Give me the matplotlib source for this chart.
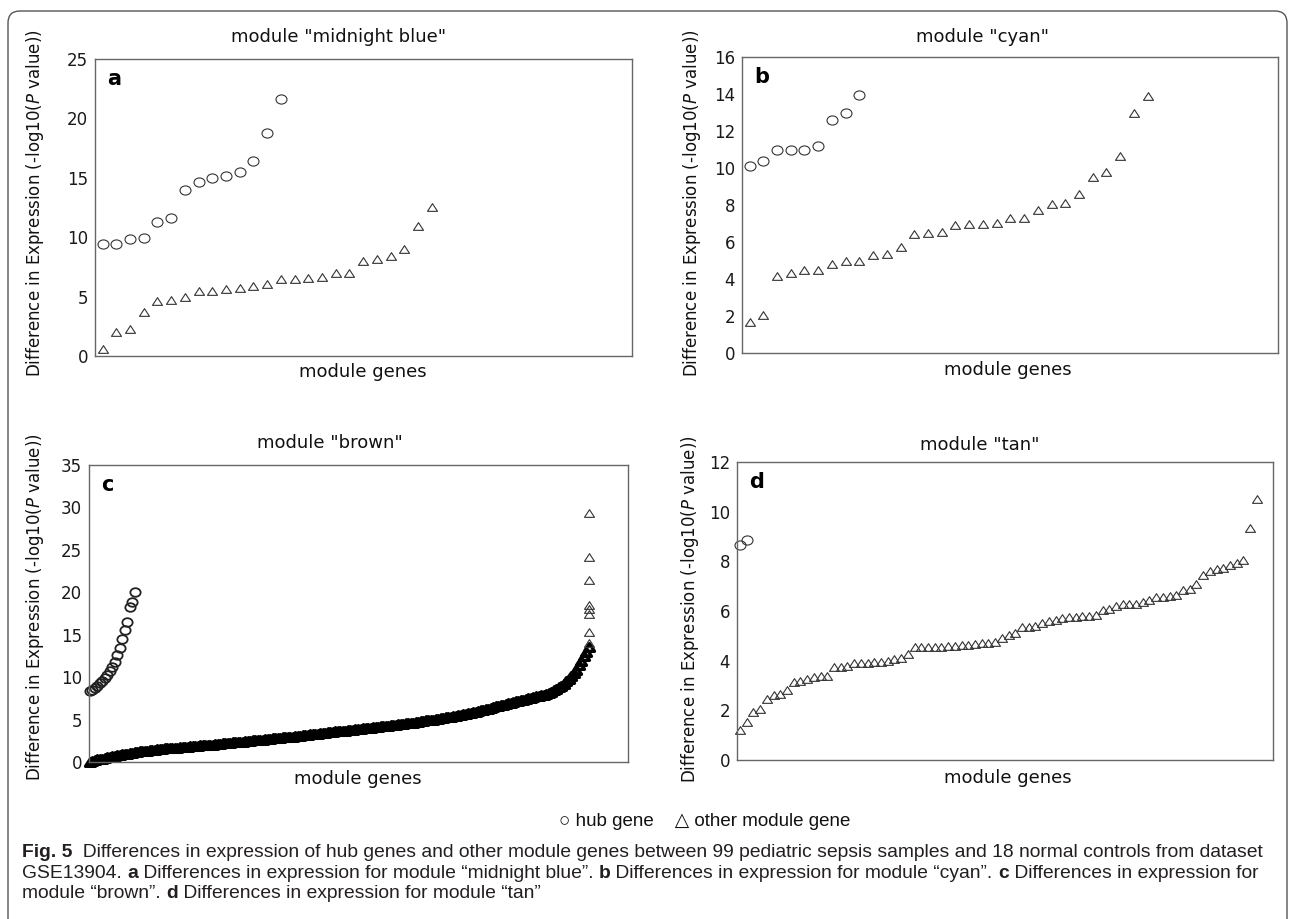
import numpy as np
import matplotlib
matplotlib.use('Agg')
import matplotlib.pyplot as plt
from matplotlib.path import Path
from matplotlib.transforms import Affine2D
from matplotlib.patches import FancyBboxPatch

W, H = 1290, 919

# module "midnight blue"
a_hub = [9.4, 9.4, 9.85, 9.95, 11.3, 11.6, 13.95, 14.65, 15.0, 15.15, 15.5, 16.45, 18.8, 21.6]
a_other = [0.6, 2.0, 2.3, 3.7, 4.65, 4.75, 4.95, 5.45, 5.45, 5.65, 5.7, 5.9, 6.1, 6.5, 6.5,
           6.55, 6.65, 6.95, 7.0, 8.0, 8.2, 8.4, 9.0, 10.95, 12.5]

# module "cyan"
b_hub = [10.1, 10.4, 10.95, 11.0, 11.0, 11.2, 12.6, 12.95, 13.95]
b_other = [1.65, 2.05, 4.15, 4.3, 4.5, 4.5, 4.8, 5.0, 5.0, 5.3, 5.35, 5.75, 6.45, 6.5, 6.55,
           6.9, 6.95, 6.95, 7.05, 7.3, 7.3, 7.75, 8.05, 8.1, 8.6, 9.5, 9.8, 10.65, 12.95, 13.9]

# module "brown" (dense)
c_hub = [8.4, 8.5, 8.7, 9.0, 9.3, 9.6, 9.9, 10.3, 10.7, 11.2, 11.8, 12.6, 13.4, 14.5,
         15.5, 16.5, 18.3, 18.9, 20.0]
c_other = [0.0, 0.1, 0.2, 0.3, 0.35, 0.4, 0.5, 0.55, 0.6, 0.7,
           0.75, 0.8, 0.85, 0.9, 0.95, 1.0, 1.05, 1.1, 1.15, 1.2,
           1.25, 1.3, 1.3, 1.35, 1.4, 1.4, 1.45, 1.5, 1.5, 1.55,
           1.6, 1.6, 1.65, 1.65, 1.7, 1.7, 1.75, 1.75, 1.8, 1.8,
           1.85, 1.85, 1.9, 1.9, 1.95, 1.95, 2.0, 2.0, 2.05, 2.05,
           2.1, 2.1, 2.15, 2.2, 2.2, 2.25, 2.25, 2.3, 2.3, 2.35,
           2.4, 2.4, 2.45, 2.5, 2.5, 2.55, 2.55, 2.6, 2.65, 2.65,
           2.7, 2.7, 2.75, 2.8, 2.8, 2.85, 2.85, 2.9, 2.95, 2.95,
           3.0, 3.0, 3.05, 3.1, 3.1, 3.15, 3.2, 3.2, 3.25, 3.3,
           3.3, 3.35, 3.4, 3.4, 3.45, 3.5, 3.5, 3.55, 3.6, 3.6,
           3.65, 3.7, 3.7, 3.75, 3.8, 3.8, 3.85, 3.9, 3.9, 3.95,
           4.0, 4.0, 4.05, 4.1, 4.15, 4.15, 4.2, 4.25, 4.3, 4.3,
           4.35, 4.4, 4.4, 4.45, 4.5, 4.5, 4.55, 4.6, 4.65, 4.65,
           4.7, 4.75, 4.8, 4.85, 4.9, 4.9, 4.95, 5.0, 5.05, 5.1,
           5.15, 5.2, 5.25, 5.3, 5.35, 5.4, 5.45, 5.5, 5.55, 5.6,
           5.65, 5.75, 5.8, 5.9, 5.95, 6.0, 6.1, 6.15, 6.25, 6.3,
           6.4, 6.45, 6.55, 6.6, 6.7, 6.75, 6.85, 6.9, 7.0, 7.05,
           7.15, 7.2, 7.3, 7.35, 7.45, 7.5, 7.6, 7.65, 7.75, 7.8,
           7.9, 7.95, 8.05, 8.15, 8.3, 8.45, 8.6, 8.8, 9.0, 9.2,
           9.5, 9.8, 10.1, 10.5, 10.9, 11.4, 11.9, 12.5, 13.0, 13.5]
c_tail = [14.0, 15.3, 17.5, 18.0, 18.5, 21.5, 24.1, 29.3]  # top genes, stacked at the end

# module "tan"
d_hub = [8.65, 8.85]
d_other = [1.2, 1.55, 1.95, 2.05, 2.45, 2.6, 2.65, 2.8, 3.15, 3.2,
           3.25, 3.35, 3.4, 3.4, 3.75, 3.75, 3.8, 3.9, 3.9, 3.9,
           3.95, 3.95, 4.0, 4.05, 4.1, 4.25, 4.55, 4.55, 4.55, 4.55,
           4.57, 4.6, 4.6, 4.62, 4.65, 4.68, 4.7, 4.72, 4.75, 4.9,
           5.05, 5.1, 5.35, 5.35, 5.4, 5.5, 5.6, 5.65, 5.72, 5.75,
           5.75, 5.78, 5.8, 5.82, 6.05, 6.1, 6.2, 6.3, 6.3, 6.3,
           6.35, 6.45, 6.55, 6.55, 6.6, 6.65, 6.85, 6.9, 7.1, 7.45,
           7.6, 7.7, 7.75, 7.85, 7.95, 8.05, 9.35, 10.5]

titles = ['module "midnight blue"', 'module "cyan"', 'module "brown"', 'module "tan"']
letters = ['a', 'b', 'c', 'd']
ylims = [25, 16, 35, 12]
ysteps = [5, 2, 5, 2]

plt.rcParams['font.family'] = ['DejaVu Sans']
plt.rcParams['mathtext.fontset'] = 'dejavusans'

# slightly wide markers (the original figure is stretched horizontally)
circ = Path.unit_circle().transformed(Affine2D().scale(1.2, 1.0))
tri = Path([(-1.3, -1.0), (1.3, -1.0), (0.0, 1.0), (-1.3, -1.0)],
           [Path.MOVETO, Path.LINETO, Path.LINETO, Path.CLOSEPOLY])

fig = plt.figure(figsize=(W / 100, H / 100), dpi=100)


def px_rect(l, t, r, b):
    return [l / W, 1 - b / H, (r - l) / W, (b - t) / H]


boxes = [(95, 59, 632, 356), (742, 57, 1278, 353), (89, 465, 628, 762), (737, 462, 1273, 760)]
xlims = [(-0.55, 38.6), (-0.55, 38.5), (-0.3, 214.7), (-0.45, 79.4)]
title_pos = [(339, 37), (982, 37), (330, 443), (980, 445)]
xlab_pos = [(363, 372), (1008, 370), (358, 779), (1008, 778)]
ylab_pos = [(35, 203), (692, 203), (35, 607), (690, 609)]

hubs = [a_hub, b_hub, c_hub, d_hub]
others = [a_other, b_other, c_other, d_other]

ec = '#333333'
for i in range(4):
    ax = fig.add_axes(px_rect(*boxes[i]))
    dense = i == 2
    ax.plot(np.arange(len(hubs[i])), hubs[i], linestyle='none', marker=circ,
            ms=7.4 if dense else 7.9, mfc='none', mec='#222222' if dense else ec,
            mew=1.3 if dense else 0.8, clip_on=False)
    ax.plot(np.arange(len(others[i])), others[i], linestyle='none', marker=tri, ms=7.2,
            mfc='none', mec='black' if dense else ec, mew=2.4 if dense else 0.8, clip_on=False)
    if dense:
        ax.plot(np.full(len(c_tail), len(c_other) - 1), c_tail, linestyle='none', marker=tri,
                ms=7.2, mfc='none', mec=ec, mew=0.8, clip_on=False)
    ax.set_xlim(*xlims[i])
    ax.set_ylim(0, ylims[i])
    ax.set_yticks(np.arange(0, ylims[i] + 1, ysteps[i]))
    ax.set_xticks([])
    ax.tick_params(length=0, labelsize=12, pad=5, colors='#1a1a1a')
    for s in ax.spines.values():
        s.set_color('#666666')
        s.set_linewidth(1.0)
    ax.text(0.022, 0.965, letters[i], transform=ax.transAxes, ha='left', va='top',
            fontsize=15, fontweight='bold', color='black')
    fig.text(title_pos[i][0] / W, 1 - title_pos[i][1] / H, titles[i], ha='center',
             va='center', fontsize=13, color='#111111')
    fig.text(xlab_pos[i][0] / W, 1 - xlab_pos[i][1] / H, 'module genes', ha='center',
             va='center', fontsize=13, color='#111111')
    fig.text(ylab_pos[i][0] / W, 1 - ylab_pos[i][1] / H,
             'Difference in Expression (-log10($\\it{P}$ value))', rotation=90,
             ha='center', va='center', fontsize=12, color='#111111')

# legend row
cap_font = ['Liberation Sans Narrow', 'Liberation Sans', 'DejaVu Sans']
fig.text(705 / W, 1 - 821 / H, '\u25cb hub gene    \u25b3 other module gene', ha='center',
         va='center', fontsize=13.5, family=cap_font, color='#111111')

# caption with bold run pieces
cap_lines = [
    [('Fig. 5', True), ('  Differences in expression of hub genes and other module genes between '
                        '99 pediatric sepsis samples and 18 normal controls from dataset', False)],
    [('GSE13904. ', False), ('a', True), (' Differences in expression for module \u201cmidnight blue\u201d. ', False),
     ('b', True), (' Differences in expression for module \u201ccyan\u201d. ', False), ('c', True),
     (' Differences in expression for', False)],
    [('module \u201cbrown\u201d. ', False), ('d', True),
     (' Differences in expression for module \u201ctan\u201d', False)],
]
renderer = fig.canvas.get_renderer()


def run_width(s, bold, size):
    t = fig.text(0, 0, s + '|', fontsize=size, family=cap_font,
                 fontweight='bold' if bold else 'normal')
    w1 = t.get_window_extent(renderer).width
    t.set_text('|')
    w2 = t.get_window_extent(renderer).width
    t.remove()
    return w1 - w2


base = 12.0
w_line1 = sum(run_width(s, b, base) for s, b in cap_lines[0])
cap_size = base * (1262 - 22) / w_line1

baselines = [857, 878, 898]
for line, yb in zip(cap_lines, baselines):
    x = 22
    for s, b in line:
        fig.text(x / W, 1 - yb / H, s, fontsize=cap_size, family=cap_font,
                 fontweight='bold' if b else 'normal', ha='left', va='baseline', color='#231f20')
        x += run_width(s, b, cap_size)

# rounded frame around the figure
frame = FancyBboxPatch((0.08, -0.3), 12.79, (H - 11) / 100 + 0.3,
                       boxstyle='round,pad=0,rounding_size=0.12',
                       transform=fig.dpi_scale_trans, fill=False, ec='#555555', lw=1.0)
fig.patches.append(frame)

fig.savefig('out.png', dpi=100)
